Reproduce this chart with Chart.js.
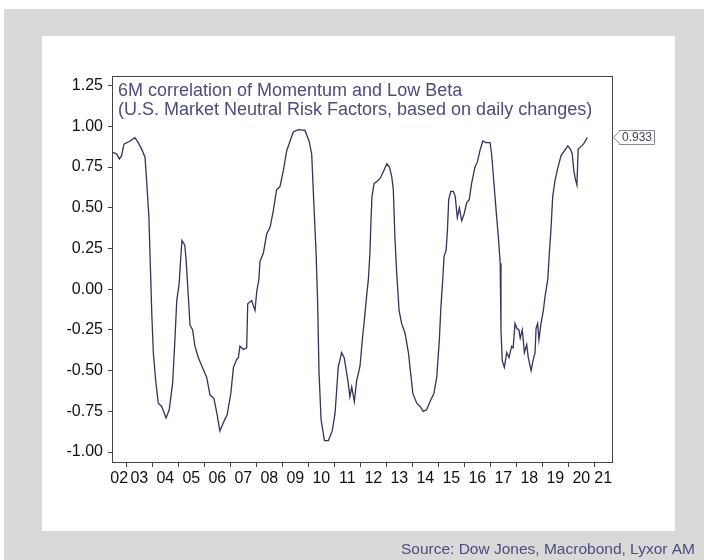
<!DOCTYPE html>
<html>
<head>
<meta charset="utf-8">
<script src="https://cdn.jsdelivr.net/npm/chart.js@4/dist/chart.umd.min.js"></script>
<style>
  body { margin: 0; background: #fff; }
  canvas { display: block; }
</style>
</head>
<body>
<canvas id="corr" width="704" height="560"></canvas>
<script>
// dates as decimal years
const dates = [2002.48, 2002.63, 2002.73, 2002.82, 2002.91, 2003.14, 2003.33, 2003.46, 2003.59, 2003.72,
  2003.78, 2003.87, 2003.98, 2004.04, 2004.13, 2004.23, 2004.36, 2004.53, 2004.65, 2004.78,
  2004.87, 2004.94, 2005.03, 2005.09, 2005.14, 2005.25, 2005.30, 2005.38, 2005.45, 2005.55,
  2005.64, 2005.77, 2005.90, 2006.09, 2006.22, 2006.37, 2006.48, 2006.60, 2006.76, 2006.88,
  2007.02, 2007.12, 2007.25, 2007.31, 2007.37, 2007.50, 2007.63, 2007.67, 2007.82, 2007.95,
  2008.02, 2008.10, 2008.14, 2008.27, 2008.40, 2008.53, 2008.65, 2008.78, 2008.91, 2009.04,
  2009.17, 2009.30, 2009.42, 2009.62, 2009.87, 2010.03, 2010.13, 2010.22, 2010.30, 2010.36,
  2010.41, 2010.49, 2010.62, 2010.77, 2010.92, 2011.03, 2011.15, 2011.28, 2011.38, 2011.52,
  2011.60, 2011.67, 2011.77, 2011.86, 2011.95, 2011.99, 2012.09, 2012.18, 2012.25, 2012.31,
  2012.37, 2012.41, 2012.45, 2012.53, 2012.63, 2012.76, 2012.88, 2013.02, 2013.12, 2013.21,
  2013.27, 2013.33, 2013.40, 2013.49, 2013.59, 2013.72, 2013.85, 2013.94, 2014.02, 2014.17,
  2014.30, 2014.42, 2014.55, 2014.68, 2014.83, 2014.94, 2015.04, 2015.10, 2015.17, 2015.22,
  2015.30, 2015.35, 2015.40, 2015.48, 2015.58, 2015.65, 2015.73, 2015.81, 2015.90, 2015.99,
  2016.09, 2016.19, 2016.28, 2016.41, 2016.50, 2016.60, 2016.71, 2016.83, 2016.99, 2017.05,
  2017.18, 2017.25, 2017.31, 2017.38, 2017.41, 2017.46, 2017.54, 2017.63, 2017.72, 2017.82,
  2017.88, 2017.95, 2018.02, 2018.10, 2018.15, 2018.23, 2018.31, 2018.40, 2018.46, 2018.57,
  2018.64, 2018.72, 2018.76, 2018.82, 2018.87, 2018.95, 2019.04, 2019.10, 2019.21, 2019.27,
  2019.33, 2019.40, 2019.49, 2019.59, 2019.72, 2019.85, 2019.98, 2020.08, 2020.15, 2020.21,
  2020.28, 2020.33, 2020.38, 2020.52, 2020.62, 2020.73];

const corr = [0.84, 0.83, 0.80, 0.82, 0.89, 0.91, 0.93, 0.90, 0.86, 0.81,
  0.67, 0.44, -0.15, -0.39, -0.56, -0.70, -0.72, -0.79, -0.74, -0.58,
  -0.31, -0.07, 0.03, 0.18, 0.30, 0.27, 0.18, -0.03, -0.22, -0.25,
  -0.35, -0.42, -0.47, -0.54, -0.65, -0.67, -0.76, -0.87, -0.81, -0.77,
  -0.64, -0.48, -0.43, -0.42, -0.35, -0.37, -0.36, -0.09, -0.07, -0.13,
  -0.01, 0.06, 0.17, 0.22, 0.34, 0.38, 0.48, 0.61, 0.63, 0.73,
  0.85, 0.91, 0.965, 0.98, 0.975, 0.91, 0.83, 0.50, 0.22, -0.09,
  -0.50, -0.80, -0.93, -0.93, -0.87, -0.76, -0.48, -0.39, -0.42, -0.56,
  -0.66, -0.60, -0.69, -0.56, -0.50, -0.47, -0.29, -0.15, -0.03, 0.06,
  0.22, 0.42, 0.57, 0.65, 0.66, 0.68, 0.72, 0.77, 0.75, 0.69,
  0.61, 0.32, 0.10, -0.13, -0.21, -0.27, -0.39, -0.52, -0.64, -0.70,
  -0.72, -0.75, -0.74, -0.69, -0.64, -0.54, -0.31, -0.11, 0.06, 0.20,
  0.24, 0.36, 0.55, 0.60, 0.60, 0.57, 0.44, 0.50, 0.42, 0.46,
  0.53, 0.55, 0.65, 0.75, 0.78, 0.85, 0.91, 0.90, 0.90, 0.83,
  0.57, 0.43, 0.32, 0.16, -0.25, -0.44, -0.48, -0.39, -0.42, -0.35,
  -0.36, -0.21, -0.24, -0.25, -0.30, -0.25, -0.39, -0.34, -0.42, -0.50,
  -0.44, -0.39, -0.24, -0.21, -0.31, -0.21, -0.13, -0.05, 0.06, 0.22,
  0.36, 0.57, 0.67, 0.74, 0.82, 0.85, 0.88, 0.86, 0.83, 0.73,
  0.67, 0.64, 0.86, 0.88, 0.90, 0.933];

const yearTicks = [2003, 2004, 2005, 2006, 2007, 2008, 2009, 2010, 2011, 2012,
  2013, 2014, 2015, 2016, 2017, 2018, 2019, 2020, 2021];
const yearLabels = ['02', '03', '04', '05', '06', '07', '08', '09', '10', '11',
  '12', '13', '14', '15', '16', '17', '18', '19', '20', '21'];
const firstYear = 2002;
const yTicks = [-1.00, -0.75, -0.50, -0.25, 0.00, 0.25, 0.50, 0.75, 1.00, 1.25];

const titleLines = ['6M correlation of Momentum and Low Beta',
  '(U.S. Market Neutral Risk Factors, based on daily changes)'];
const sourceText = 'Source: Dow Jones, Macrobond, Lyxor AM';

const FONT = "'Liberation Sans', Arial, sans-serif";
const lineColor = '#33335f';
const textBlue = '#4c4c7e';
const frameColor = '#444444';

let points = [];
for (let i = 0; i < dates.length; i++) {
    points.push({x: dates[i], y: corr[i]});
}

// backgrounds, frame, year labels, title, last-value tag, source
const decor = {
    id: 'decor',
    beforeDraw: function(chart) {
        let ctx = chart.ctx;
        ctx.save();
        ctx.fillStyle = '#ffffff';
        ctx.fillRect(0, 0, chart.width, chart.height);
        ctx.fillStyle = '#d9d9d9';
        ctx.fillRect(4, 9, chart.width - 4, chart.height - 9);
        ctx.fillStyle = '#ffffff';
        ctx.fillRect(42, 36, 633, 495);
        ctx.restore();
    },
    afterDraw: function(chart) {
        let ctx = chart.ctx;
        let a = chart.chartArea;
        let xs = chart.scales.x;
        let ys = chart.scales.y;
        ctx.save();

        ctx.strokeStyle = frameColor;
        ctx.lineWidth = 1;
        ctx.strokeRect(Math.round(a.left) + 0.5, Math.round(a.top) + 0.5,
            Math.round(a.right - a.left), Math.round(a.bottom - a.top));

        // year labels centred in the visible part of each year
        ctx.fillStyle = '#111111';
        ctx.font = '16px ' + FONT;
        ctx.textAlign = 'center';
        ctx.textBaseline = 'middle';
        for (let i = 0; i < yearLabels.length; i++) {
            let lo = Math.max(firstYear + i, xs.min);
            let hi = Math.min(firstYear + i + 1, xs.max);
            let px = (xs.getPixelForValue(lo) + xs.getPixelForValue(hi)) / 2;
            ctx.fillText(yearLabels[i], px, a.bottom + 17);
        }

        // title inside the plot
        ctx.font = '18px ' + FONT;
        ctx.fillStyle = textBlue;
        ctx.textAlign = 'left';
        ctx.textBaseline = 'alphabetic';
        ctx.fillText(titleLines[0], a.left + 6, a.top + 19.5);
        ctx.fillText(titleLines[1], a.left + 6, a.top + 38.5);

        // last value tag
        let last = corr[corr.length - 1];
        let ty = Math.round(ys.getPixelForValue(last));
        let tx = Math.round(a.right) + 1;
        ctx.font = '12px ' + FONT;
        let label = last.toFixed(3);
        let w = ctx.measureText(label).width + 5;
        ctx.fillStyle = '#ffffff';
        ctx.strokeStyle = '#8a8a8a';
        ctx.beginPath();
        ctx.moveTo(tx + 0.5, ty + 0.5);
        ctx.lineTo(tx + 6.5, ty - 5.5);
        ctx.lineTo(tx + 6.5, ty - 6.5);
        ctx.lineTo(tx + 6.5 + w, ty - 6.5);
        ctx.lineTo(tx + 6.5 + w, ty + 7.5);
        ctx.lineTo(tx + 6.5, ty + 7.5);
        ctx.lineTo(tx + 6.5, ty + 6.5);
        ctx.closePath();
        ctx.fill();
        ctx.stroke();
        ctx.fillStyle = '#3c3c5c';
        ctx.textBaseline = 'middle';
        ctx.fillText(label, tx + 9, ty + 1);

        // source line
        ctx.font = '15.5px ' + FONT;
        ctx.fillStyle = textBlue;
        ctx.textAlign = 'right';
        ctx.textBaseline = 'alphabetic';
        ctx.fillText(sourceText, 695, 554);
        ctx.restore();
    }
};

new Chart(document.getElementById('corr'), {
    type: 'line',
    data: {
        datasets: [{
            data: points,
            borderColor: lineColor,
            borderWidth: 1.3,
            pointRadius: 0,
            tension: 0,
            fill: false
        }]
    },
    options: {
        responsive: false,
        animation: false,
        layout: {padding: {left: 0, top: 76, right: 92, bottom: 0}},
        plugins: {legend: {display: false}, tooltip: {enabled: false}},
        scales: {
            x: {
                type: 'linear',
                min: 2002.45,
                max: 2021.68,
                afterBuildTicks: function(scale) {
                    scale.ticks = yearTicks.map(function(v) { return {value: v}; });
                },
                afterFit: function(scale) { scale.height = 98; },
                grid: {drawOnChartArea: false, drawTicks: true, tickLength: 5, color: frameColor},
                border: {display: false},
                ticks: {display: false}
            },
            y: {
                type: 'linear',
                min: -1.061,
                max: 1.309,
                afterBuildTicks: function(scale) {
                    scale.ticks = yTicks.map(function(v) { return {value: v}; });
                },
                afterFit: function(scale) { scale.width = 112; },
                grid: {drawOnChartArea: false, drawTicks: true, tickLength: 4, color: frameColor},
                border: {display: false},
                ticks: {
                    color: '#111111',
                    padding: 5,
                    font: {family: FONT, size: 16},
                    callback: function(v) { return v.toFixed(2); }
                }
            }
        }
    },
    plugins: [decor]
});
</script>
</body>
</html>
